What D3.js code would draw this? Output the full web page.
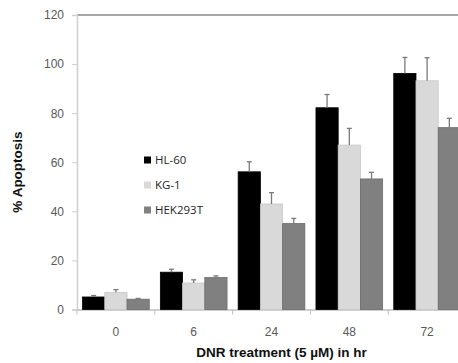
<!DOCTYPE html>
<html>
<head>
<meta charset="utf-8">
<script src="https://cdn.jsdelivr.net/npm/d3@7"></script>
<style>
  body { margin: 0; background: #fff; }
  svg { display: block; font-family: "Open Sans", "Liberation Sans", sans-serif; }
</style>
</head>
<body>
<svg id="chart" width="458" height="363"></svg>
<script>
// data
const timepoints = ['0', '6', '24', '48', '72'];
const seriesNames = ['HL-60', 'KG-1', 'HEK293T'];
const hl60 = [5.1, 15.2, 56.1, 82.2, 96.2];
const hl60Err = [0.6, 1.2, 4.1, 5.4, 6.5];
const kg1 = [7.0, 10.8, 43.0, 67.0, 93.2];
const kg1Err = [1.1, 1.3, 4.6, 6.8, 9.4];
const hek = [4.2, 13.0, 35.0, 53.2, 74.1];
const hekErr = [0.3, 0.7, 2.1, 2.7, 3.8];
const yTicks = [0, 20, 40, 60, 80, 100, 120];

const colors = ['#000000', '#d9d9d9', '#808080'];
const strokes = ['#000000', '#c8c8c8', '#6a6a6a'];

const rows = [];
timepoints.forEach((t, i) => {
  [[hl60, hl60Err], [kg1, kg1Err], [hek, hekErr]].forEach(([v, e], s) => {
    rows.push({ t: t, s: s, v: v[i], e: e[i] });
  });
});

const svg = d3.select('#chart');
const plotLeft = 77, plotRight = 466, plotTop = 15, plotBottom = 309.5;

const x = d3.scaleBand().domain(timepoints).range([plotLeft, plotRight]).paddingInner(0).paddingOuter(0);
const inner = d3.scaleBand().domain(d3.range(3)).range([0, x.bandwidth()]).paddingInner(0).paddingOuter(0.25);
const y = d3.scaleLinear().domain([0, 120]).range([plotBottom, plotTop]);

// top border of plot area
svg.append('line')
  .attr('x1', plotLeft).attr('x2', 458)
  .attr('y1', y(120)).attr('y2', y(120))
  .attr('stroke', '#a6a6a6').attr('stroke-width', 2);

// y axis
const yAxis = svg.append('g')
  .attr('transform', `translate(${plotLeft},0)`)
  .call(d3.axisLeft(y).tickValues(yTicks).tickSize(5).tickPadding(8));
yAxis.select('.domain').attr('stroke', '#d0d0d0').attr('stroke-width', 1.5);
yAxis.selectAll('.tick line').attr('stroke', '#d0d0d0');
yAxis.selectAll('text').attr('fill', '#595959').style('font-size', '12px');

// x axis
const xAxis = svg.append('g')
  .attr('transform', `translate(0,${plotBottom})`)
  .call(d3.axisBottom(x).tickSize(0).tickPadding(18));
xAxis.select('.domain').attr('stroke', '#c0c0c0').attr('stroke-width', 1.5);
xAxis.selectAll('text').attr('fill', '#595959').style('font-size', '12px');
xAxis.selectAll('.sep')
  .data(timepoints)
  .enter()
  .append('line')
  .attr('x1', d => x(d)).attr('x2', d => x(d))
  .attr('y1', 0).attr('y2', 5)
  .attr('stroke', '#c0c0c0');

// bars
const bars = svg.append('g');
bars.selectAll('rect')
  .data(rows)
  .enter()
  .append('rect')
  .attr('x', d => x(d.t) + inner(d.s))
  .attr('y', d => y(d.v))
  .attr('width', inner.bandwidth())
  .attr('height', d => plotBottom - y(d.v))
  .attr('fill', d => colors[d.s])
  .attr('stroke', d => strokes[d.s])
  .attr('stroke-width', 0.8);

// error bars (upper only)
const errs = svg.append('g').attr('stroke', '#7a7a7a').attr('stroke-width', 1.3);
errs.selectAll('line.v')
  .data(rows)
  .enter()
  .append('line')
  .attr('x1', d => x(d.t) + inner(d.s) + inner.bandwidth() / 2)
  .attr('x2', d => x(d.t) + inner(d.s) + inner.bandwidth() / 2)
  .attr('y1', d => y(d.v))
  .attr('y2', d => y(d.v + d.e));
errs.selectAll('line.c')
  .data(rows)
  .enter()
  .append('line')
  .attr('x1', d => x(d.t) + inner(d.s) + inner.bandwidth() / 2 - 2.5)
  .attr('x2', d => x(d.t) + inner(d.s) + inner.bandwidth() / 2 + 2.5)
  .attr('y1', d => y(d.v + d.e))
  .attr('y2', d => y(d.v + d.e));

// legend
const legend = svg.append('g');
seriesNames.forEach((name, i) => {
  const g = legend.append('g').attr('transform', `translate(144,${160 + i * 25})`);
  g.append('rect')
    .attr('x', 0).attr('y', -3.5)
    .attr('width', 7).attr('height', 7)
    .attr('fill', colors[i]);
  g.append('text')
    .attr('x', 11).attr('y', 4)
    .attr('fill', '#262626')
    .style('font-size', '11.5px')
    .text(name);
});

// axis titles
svg.append('text')
  .attr('transform', 'translate(22,172) rotate(-90)')
  .attr('text-anchor', 'middle')
  .style('font-family', '"Liberation Sans", Arial, sans-serif')
  .style('font-size', '13.5px')
  .style('font-weight', 'bold')
  .attr('fill', '#111')
  .text('% Apoptosis');

svg.append('text')
  .attr('x', 281.5).attr('y', 357)
  .attr('text-anchor', 'middle')
  .style('font-family', '"Liberation Sans", Arial, sans-serif')
  .style('font-size', '13.5px')
  .style('font-weight', 'bold')
  .attr('fill', '#111')
  .text('DNR treatment (5 µM) in hr');
</script>
</body>
</html>
